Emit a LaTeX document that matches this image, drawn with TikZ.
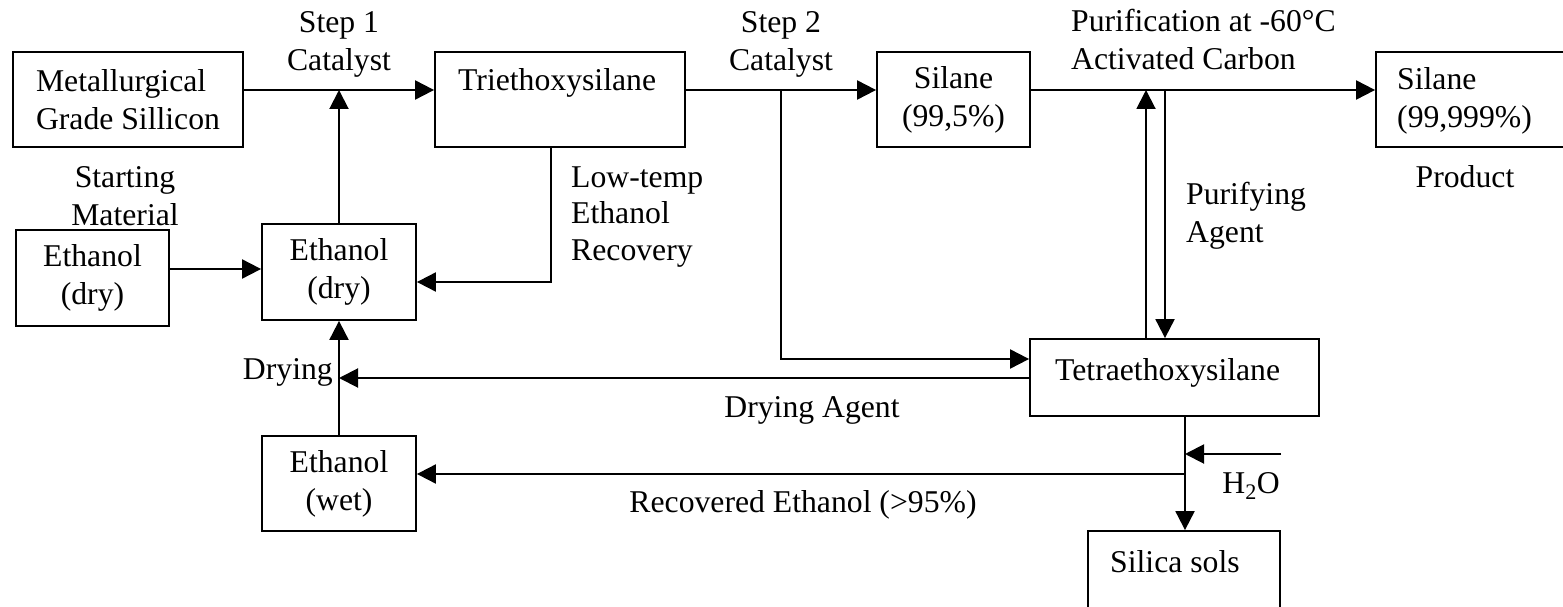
\documentclass[tikz,border=0pt]{standalone}
\usepackage{fontspec}
\setmainfont{Liberation Serif}
\usetikzlibrary{arrows.meta}
\tikzset{
  box/.style={draw, line width=1.8pt, inner sep=0pt, align=center},
  txt/.style={inner sep=0pt, align=center},
  arr/.style={line width=2pt, -{Triangle[length=19pt,width=19pt]}},
}
\begin{document}
\begin{tikzpicture}[x=1pt,y=-1pt, every node/.style={font=\fontsize{31.7}{38}\selectfont}]
\useasboundingbox (0,0) rectangle (1563,607);
% boxes
\node[box, align=left, minimum width=230pt, minimum height=95pt] (mgs) at (128,99.5) {Metallurgical\\Grade Sillicon};
\node[box, minimum width=250pt, minimum height=95pt] (tri) at (560,99.5) {};
\node[txt, anchor=base west] (trit) at (458,91) {Triethoxysilane};
\node[box, minimum width=153pt, minimum height=95pt] (sil1) at (953.5,99.5) {Silane\\(99,5\%)};
\node[box, minimum width=224pt, minimum height=95pt] (sil2) at (1488,99.5) {};
\node[txt, anchor=base west, align=left] (sil2t) at (1397,128) {Silane\\(99,999\%)};
\node[box, minimum width=153pt, minimum height=96pt] (eth0) at (92.5,278) {Ethanol\\(dry)};
\node[box, minimum width=154pt, minimum height=96pt] (eth1) at (339,272) {Ethanol\\(dry)};
\node[box, minimum width=154pt, minimum height=95pt] (ethw) at (339,483.5) {Ethanol\\(wet)};
\node[box, minimum width=289pt, minimum height=77pt] (tetra) at (1174.5,377.5) {};
\node[txt, anchor=base west] (tetrat) at (1055,380) {Tetraethoxysilane};
\node[box, minimum width=192pt, minimum height=100pt] (sols) at (1184,581) {};
\node[txt, anchor=base west] (solst) at (1110,572) {Silica sols};
% labels (base = baseline of last line)
\node[txt, anchor=base] (s1) at (339,71) {Step 1\\Catalyst};
\node[txt, anchor=base] (sm) at (125,225) {Starting\\Material};
\node[txt, anchor=base] (s2) at (781,71) {Step 2\\Catalyst};
\node[txt, anchor=base west, align=left] (lte) at (571,260) {Low-temp\\[-1.5pt]Ethanol\\[-1.5pt]Recovery};
\node[txt, anchor=base west, align=left] (pur) at (1071,70) {Purification at -60°C\\Activated Carbon};
\node[txt, anchor=base] (prod) at (1465,187) {Product};
\node[txt, anchor=base west, align=left] (pa) at (1186,242) {Purifying\\Agent};
\node[txt, anchor=base east] (dry) at (333,379) {Drying};
\node[txt, anchor=base] (da) at (812,417) {Drying Agent};
\node[txt, anchor=base] (re) at (803,512) {Recovered Ethanol (>95\%)};
\node[txt, anchor=base east] (h2ot) at (1280,493) {H\textsubscript{2}O};
% rails
\coordinate (rail) at (0,90);
\coordinate (br2) at (781,90);
\coordinate (pu) at (1146,90);
\coordinate (pd) at (1165,90);
\coordinate (tbx) at (551,0);
\coordinate (lt) at (0,282);
\coordinate (tin) at (0,359);
\coordinate (drw) at (0,378);
\coordinate (sx) at (1185,0);
\coordinate (h2o) at (1281,454);
\coordinate (rec) at (0,474);
\coordinate (et) at (0,269);
% connectors
\draw[arr] (mgs.east |- rail) -- (tri.west |- rail);
\draw[arr] (eth1.north) -- (eth1.north |- rail);
\draw[arr] (eth0.east |- et) -- (eth1.west |- et);
\draw[arr] (tri.south -| tbx) |- (eth1.east |- lt);
\draw[arr] (tri.east |- rail) -- (sil1.west |- rail);
\draw[arr] (br2) |- (tetra.west |- tin);
\draw[arr] (sil1.east |- rail) -- (sil2.west |- rail);
\draw[arr] (tetra.north -| pu) -- (pu);
\draw[arr] (pd) -- (tetra.north -| pd);
\draw[arr] (tetra.west |- drw) -- (eth1.south |- drw);
\draw[arr] (ethw.north) -- (eth1.south);
\draw[arr] (tetra.south -| sx) -- (sols.north -| sx);
\draw[arr] (h2o) -- (h2o -| sx);
\draw[arr] (sx |- rec) -- (ethw.east |- rec);
\end{tikzpicture}
\end{document}
